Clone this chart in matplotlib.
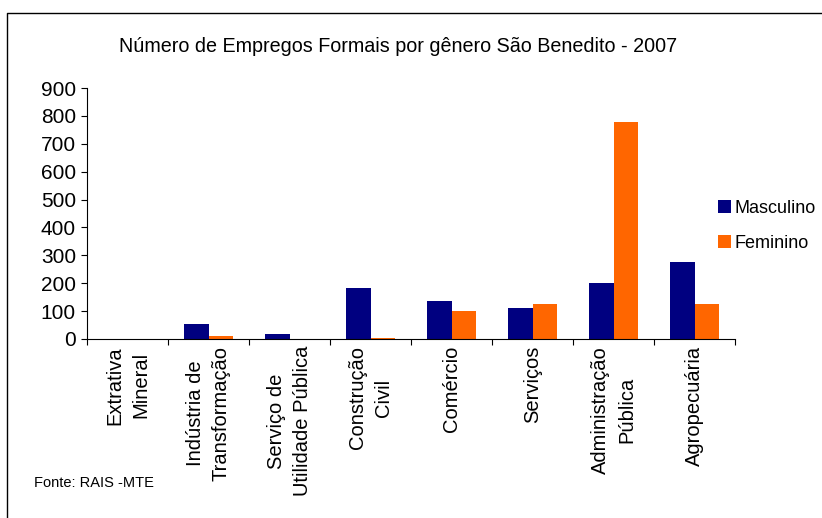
import numpy as np
from matplotlib import pyplot as plt
from matplotlib.lines import Line2D

# data
setores = ['Extrativa\nMineral', 'Indústria de\nTransformação', 'Serviço de\nUtilidade Pública',
           'Construção\nCivil', 'Comércio', 'Serviços', 'Administração\nPública', 'Agropecuária']
masculino = [0, 54, 18, 183, 136, 111, 201, 276]
feminino = [0, 11, 0, 4, 100, 125, 778, 125]
yticks = [0, 100, 200, 300, 400, 500, 600, 700, 800, 900]

W, H = 822, 518
plt.rcParams['font.family'] = ['Liberation Sans', 'DejaVu Sans']

fig = plt.figure(figsize=(W / 100, H / 100), dpi=100)
ax = fig.add_axes([87 / W, (H - 339) / H, (735 - 87) / W, (339 - 88) / H])

x = np.arange(len(setores))
bw = 0.3
ax.bar(x - bw / 2, masculino, bw, color='#000080', label='Masculino')
ax.bar(x + bw / 2, feminino, bw, color='#FF6600', label='Feminino')

ax.set_xlim(-0.5, len(setores) - 0.5)
ax.set_ylim(0, 900)
ax.set_yticks(yticks)
ax.tick_params(axis='y', labelsize=15, length=4, width=0.8, pad=4)

ax.set_xticks(x)
ax.set_xticklabels(setores, rotation=90, fontsize=14.5, ha='center', va='top',
                   multialignment='center', linespacing=1.45)
ax.set_xticks(np.arange(len(setores) + 1) - 0.5, minor=True)
ax.tick_params(axis='x', which='major', length=0, pad=5)
ax.tick_params(axis='x', which='minor', length=4, width=0.8)

for s in ['top', 'right']:
    ax.spines[s].set_visible(False)
ax.spines['left'].set_linewidth(0.8)
ax.spines['bottom'].set_linewidth(0.8)

fig.text(0.5 * (120 + 677) / W, 1 - 47 / H, 'Número de Empregos Formais por gênero São Benedito - 2007',
         ha='center', va='center', fontsize=14.2)

fig.legend(loc='upper left', bbox_to_anchor=(718 / W, 1 - 200 / H), frameon=False,
           fontsize=13, handlelength=0.7, handleheight=0.7, handletextpad=0.2,
           labelspacing=1.0, borderpad=0, borderaxespad=0)

fig.text(34 / W, 1 - 483 / H, 'Fonte: RAIS -MTE', ha='left', va='center', fontsize=10.5)

# border of the chart area (only left and top visible)
fig.add_artist(Line2D([7 / W, 7 / W, 1], [0, 1 - 13 / H, 1 - 13 / H],
                      transform=fig.transFigure, color='black', lw=1))

fig.savefig('out.png', dpi=100)
